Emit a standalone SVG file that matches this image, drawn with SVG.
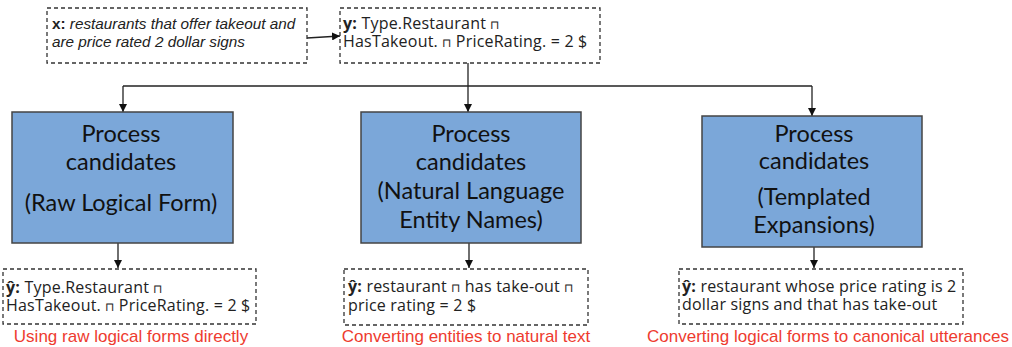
<svg xmlns="http://www.w3.org/2000/svg" width="1012" height="347" viewBox="0 0 1012 347">
<style>
.dash{fill:#fff;stroke:#333;stroke-width:1.3;stroke-dasharray:4 3}
.proc{fill:#7ba7d9;stroke:#444;stroke-width:1.5}
.pt{font-family:Lato,"Open Sans",sans-serif;font-size:23.5px;fill:#111;text-anchor:middle}
.mt{font-family:"Open Sans","Noto Sans",sans-serif;font-size:16px;letter-spacing:0.2px;fill:#222}
.op{font-size:12px}
.it{font-family:"Liberation Sans",Arial,sans-serif;font-size:15.3px;font-style:italic;fill:#222}
.b{font-weight:bold;font-style:normal}
.red{font-family:"Liberation Sans",Arial,sans-serif;font-size:17px;fill:#ee3b2f;text-anchor:middle}
.ln{fill:none;stroke:#222;stroke-width:1.3}
</style>
<defs>
<marker id="ah" viewBox="0 0 10 10" refX="10" refY="5" markerWidth="8" markerHeight="8" markerUnits="userSpaceOnUse" orient="auto">
<path d="M0,0 L10,5 L0,10 z" fill="#111"/>
</marker>
</defs>
<g id="connectors">
<path class="ln" d="M307,38 L340,36" marker-end="url(#ah)"/>
<path class="ln" d="M468,63 V112" marker-end="url(#ah)"/>
<path class="ln" d="M123,86 H812"/>
<path class="ln" d="M123,86 V112" marker-end="url(#ah)"/>
<path class="ln" d="M812,86 V116" marker-end="url(#ah)"/>
<path class="ln" d="M118,243 V268" marker-end="url(#ah)"/>
<path class="ln" d="M469,243 V268" marker-end="url(#ah)"/>
<path class="ln" d="M814,247 V268" marker-end="url(#ah)"/>
</g>
<g id="input-x">
<rect class="dash" x="47" y="8" width="260" height="55"/>
<text class="it" x="52" y="29"><tspan class="b">x:</tspan> restaurants that offer takeout and</text>
<text class="it" x="52" y="47">are price rated 2 dollar signs</text>
</g>
<g id="logical-y">
<rect class="dash" x="340" y="8" width="260" height="55"/>
<text class="mt" x="343" y="29"><tspan font-weight="bold">y:</tspan> Type.Restaurant <tspan class="op">⊓</tspan></text>
<text class="mt" x="343" y="47">HasTakeout. <tspan class="op">⊓</tspan> PriceRating. = 2 $</text>
</g>
<g id="proc-raw">
<rect class="proc" x="12" y="112" width="221" height="131"/>
<text class="pt" x="121" y="142">Process</text>
<text class="pt" x="121" y="170">candidates</text>
<text class="pt" x="121" y="211">(Raw Logical Form)</text>
</g>
<g id="proc-nl">
<rect class="proc" x="361" y="112" width="220" height="131"/>
<text class="pt" x="471" y="142">Process</text>
<text class="pt" x="471" y="170">candidates</text>
<text class="pt" x="471" y="199">(Natural Language</text>
<text class="pt" x="471" y="228">Entity Names)</text>
</g>
<g id="proc-tmpl">
<rect class="proc" x="702" y="116" width="220" height="131"/>
<text class="pt" x="814" y="142">Process</text>
<text class="pt" x="814" y="169">candidates</text>
<text class="pt" x="814" y="205">(Templated</text>
<text class="pt" x="814" y="233">Expansions)</text>
</g>
<g id="out-raw">
<rect class="dash" x="3" y="269" width="253" height="55"/>
<text class="mt" x="6" y="293"><tspan font-weight="bold">ŷ:</tspan> Type.Restaurant <tspan class="op">⊓</tspan></text>
<text class="mt" x="6" y="311">HasTakeout. <tspan class="op">⊓</tspan> PriceRating. = 2 $</text>
<text class="red" x="131" y="342">Using raw logical forms directly</text>
</g>
<g id="out-nl">
<rect class="dash" x="344" y="269" width="244" height="56"/>
<text class="mt" x="348" y="292"><tspan font-weight="bold">ŷ:</tspan> restaurant <tspan class="op">⊓</tspan> has take-out <tspan class="op">⊓</tspan></text>
<text class="mt" x="348" y="311">price rating = 2 $</text>
<text class="red" x="466" y="342">Converting entities to natural text</text>
</g>
<g id="out-tmpl">
<rect class="dash" x="679" y="269" width="284" height="55"/>
<text class="mt" x="682" y="292"><tspan font-weight="bold">ŷ:</tspan> restaurant whose price rating is 2</text>
<text class="mt" x="682" y="310">dollar signs and that has take-out</text>
<text class="red" x="828" y="342">Converting logical forms to canonical utterances</text>
</g>
</svg>
